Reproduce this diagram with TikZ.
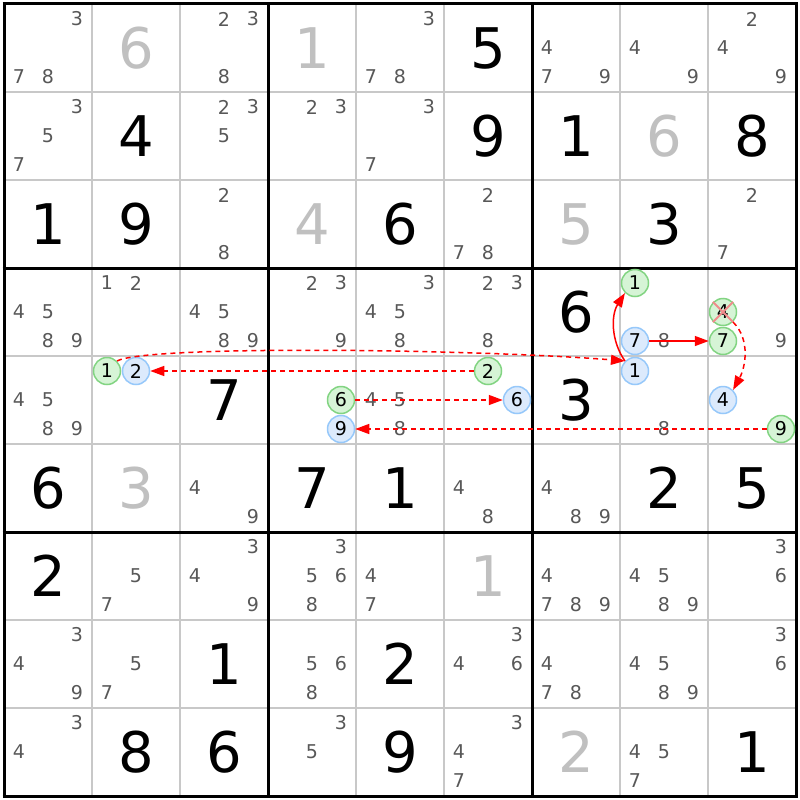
\documentclass[tikz,border=0pt]{standalone}
\usepackage{fontspec}
\setmainfont{DejaVu Sans}
\usetikzlibrary{arrows.meta}
\definecolor{candgray}{RGB}{88,88,88}
\definecolor{givengray}{RGB}{192,192,192}
\definecolor{thingrid}{RGB}{200,200,200}
\definecolor{gfill}{RGB}{214,244,214}
\definecolor{gline}{RGB}{130,212,130}
\definecolor{bfill}{RGB}{220,234,252}
\definecolor{bline}{RGB}{150,200,250}
\definecolor{xline}{RGB}{240,140,140}
\definecolor{chainred}{RGB}{255,0,0}
\tikzset{
  cand/.style={text=candgray, font=\fontsize{19}{19}\selectfont, inner sep=0pt},
  solvedbig/.style={text=black, font=\fontsize{56}{56}\selectfont, inner sep=0pt},
  givenbig/.style={text=givengray, font=\fontsize{56}{56}\selectfont, inner sep=0pt},
  hgreen/.style={circle, draw=gline, fill=gfill, line width=1.5pt, minimum size=27pt, inner sep=0pt, text=black, font=\fontsize{19}{19}\selectfont},
  hblue/.style={circle, draw=bline, fill=bfill, line width=1.5pt, minimum size=27pt, inner sep=0pt, text=black, font=\fontsize{19}{19}\selectfont},
  strong/.style={draw=chainred, line width=1.5pt, -{Triangle[length=14pt,width=10pt]}},
  weak/.style={strong, dash pattern=on 5pt off 4pt},
  crossline/.style={draw=xline, line width=2pt}
}
\newcommand\cands[3]{\foreach \d in {#3}{%
  \pgfmathsetmacro\cx{88*#2-40+29*(mod(\d-1,3)-1)}%
  \pgfmathsetmacro\cy{88*#1-40+29*(floor((\d-1)/3)-1)}%
  \node[cand] (k#1#2\d) at (\cx,\cy) {\d};}}
\newcommand\solv[3]{\node[solvedbig] (v#1#2) at (88*#2-40,88*#1-40) {#3};}
\newcommand\givn[3]{\node[givenbig] (v#1#2) at (88*#2-40,88*#1-40) {#3};}
\newcommand\hcand[4]{%
  \pgfmathsetmacro\cx{88*#3-40+29*(mod(#4-1,3)-1)}%
  \pgfmathsetmacro\cy{88*#2-40+29*(floor((#4-1)/3)-1)}%
  \node[#1] (h#2#3#4) at (\cx,\cy) {#4};}
\begin{document}
\begin{tikzpicture}[x=1pt,y=-1pt]
\useasboundingbox (0,0) rectangle (800,800);
\fill[white] (0,0) rectangle (800,800);
% grid
\foreach \i in {1,2,4,5,7,8}{
  \draw[thingrid, line width=1.5pt] (4+88*\i,4) -- (4+88*\i,796);
  \draw[thingrid, line width=1.5pt] (4,4+88*\i) -- (796,4+88*\i);
}
\foreach \i in {0,3,6,9}{
  \draw[black, line width=3pt] (4+88*\i,2.5) -- (4+88*\i,797.5);
  \draw[black, line width=3pt] (2.5,4+88*\i) -- (797.5,4+88*\i);
}
% row 1
\cands{1}{1}{3,7,8} \givn{1}{2}{6} \cands{1}{3}{2,3,8} \givn{1}{4}{1}
\cands{1}{5}{3,7,8} \solv{1}{6}{5} \cands{1}{7}{4,7,9} \cands{1}{8}{4,9}
\cands{1}{9}{2,4,9}
% row 2
\cands{2}{1}{3,5,7} \solv{2}{2}{4} \cands{2}{3}{2,3,5} \cands{2}{4}{2,3}
\cands{2}{5}{3,7} \solv{2}{6}{9} \solv{2}{7}{1} \givn{2}{8}{6} \solv{2}{9}{8}
% row 3
\solv{3}{1}{1} \solv{3}{2}{9} \cands{3}{3}{2,8} \givn{3}{4}{4} \solv{3}{5}{6}
\cands{3}{6}{2,7,8} \givn{3}{7}{5} \solv{3}{8}{3} \cands{3}{9}{2,7}
% row 4
\cands{4}{1}{4,5,8,9} \cands{4}{2}{1,2} \cands{4}{3}{4,5,8,9} \cands{4}{4}{2,3,9}
\cands{4}{5}{3,4,5,8} \cands{4}{6}{2,3,8} \solv{4}{7}{6} \cands{4}{8}{8}
\cands{4}{9}{9}
% row 5
\cands{5}{1}{4,5,8,9} \solv{5}{3}{7} \cands{5}{5}{4,5,8} \solv{5}{7}{3}
\cands{5}{8}{8}
% row 6
\solv{6}{1}{6} \givn{6}{2}{3} \cands{6}{3}{4,9} \solv{6}{4}{7} \solv{6}{5}{1}
\cands{6}{6}{4,8} \cands{6}{7}{4,8,9} \solv{6}{8}{2} \solv{6}{9}{5}
% row 7
\solv{7}{1}{2} \cands{7}{2}{5,7} \cands{7}{3}{3,4,9} \cands{7}{4}{3,5,6,8}
\cands{7}{5}{4,7} \givn{7}{6}{1} \cands{7}{7}{4,7,8,9} \cands{7}{8}{4,5,8,9}
\cands{7}{9}{3,6}
% row 8
\cands{8}{1}{3,4,9} \cands{8}{2}{5,7} \solv{8}{3}{1} \cands{8}{4}{5,6,8}
\solv{8}{5}{2} \cands{8}{6}{3,4,6} \cands{8}{7}{4,7,8} \cands{8}{8}{4,5,8,9}
\cands{8}{9}{3,6}
% row 9
\cands{9}{1}{3,4} \solv{9}{2}{8} \solv{9}{3}{6} \cands{9}{4}{3,5} \solv{9}{5}{9}
\cands{9}{6}{3,4,7} \givn{9}{7}{2} \cands{9}{8}{4,5,7} \solv{9}{9}{1}
% highlighted candidates
\hcand{hgreen}{4}{8}{1} \hcand{hblue}{4}{8}{7}
\hcand{hgreen}{4}{9}{4} \hcand{hgreen}{4}{9}{7}
\hcand{hgreen}{5}{2}{1} \hcand{hblue}{5}{2}{2}
\hcand{hgreen}{5}{4}{6} \hcand{hblue}{5}{4}{9}
\hcand{hgreen}{5}{6}{2} \hcand{hblue}{5}{6}{6}
\hcand{hblue}{5}{8}{1}
\hcand{hblue}{5}{9}{4} \hcand{hgreen}{5}{9}{9}
% elimination cross
\draw[crossline] (h494.north west) -- (h494.south east);
\draw[crossline] (h494.north east) -- (h494.south west);
% chain links
\draw[weak] (h521.north east) .. controls +(30,-16) and +(-150,-12) .. (h581.north west);
\draw[strong] (h581.north west) .. controls +(-14,-20) and +(-14,22) .. (h481.south west);
\draw[strong] (h487) -- (h497);
\draw[weak] (h494.south east) .. controls +(18,18) and +(12,-22) .. (h594.north east);
\draw[weak] (h562) -- (h522);
\draw[weak] (h546) -- (h566);
\draw[weak] (h599) -- (h549);
\end{tikzpicture}
\end{document}
